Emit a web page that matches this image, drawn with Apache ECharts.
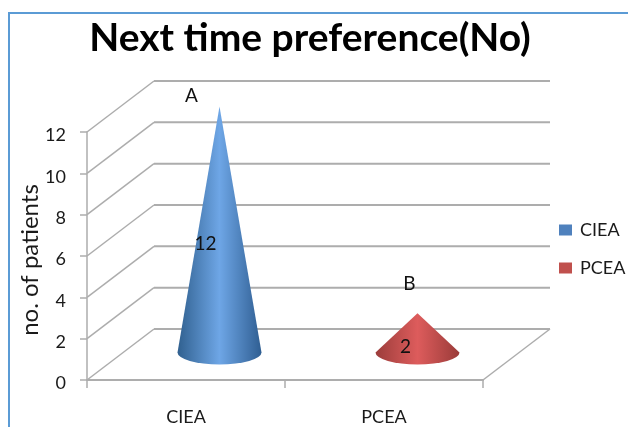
<!DOCTYPE html>
<html>
<head>
<meta charset="utf-8">
<style>html,body{margin:0;padding:0;background:#fff}#chart{width:628px;height:427px}</style>
<script src="https://cdn.jsdelivr.net/npm/echarts@6/dist/echarts.min.js"></script>
</head>
<body>
<div id="chart"></div>
<script>
const categories = ['CIEA', 'PCEA'];
const cieaValues = [[0, 12]];
const pceaValues = [[1, 2]];
const cornerNotes = ['A', 'B'];
const valueTicks = [0, 2, 4, 6, 8, 10, 12];

// Depth of the pseudo-3D box, in pixels
const DEPTH_X = 67, DEPTH_Y = 51;
const FONT = 'Lato, "Open Sans", sans-serif';
const GRID_COLOR = '#adadad';

function renderWalls(params, api) {
  const v = api.value(0);
  const halfBand = api.size([1, 0])[0] / 2;
  const first = api.coord([0, v]);
  const last = api.coord([categories.length - 1, v]);
  const front = [first[0] - halfBand, first[1]];
  const end = [last[0] + halfBand, last[1]];
  const back = [front[0] + DEPTH_X, front[1] - DEPTH_Y];
  const backEnd = [end[0] + DEPTH_X, end[1] - DEPTH_Y];
  const thin = { stroke: GRID_COLOR, lineWidth: 1.5, fill: null };
  const thick = { stroke: GRID_COLOR, lineWidth: 2, fill: null };
  const children = [
    { type: 'line', shape: { x1: front[0], y1: front[1], x2: back[0], y2: back[1] }, style: thin },
    { type: 'line', shape: { x1: back[0], y1: back[1], x2: backEnd[0], y2: backEnd[1] }, style: thick }
  ];
  if (v === 0) {
    children.push(
      { type: 'line', shape: { x1: end[0], y1: end[1], x2: backEnd[0], y2: backEnd[1] }, style: thin }
    );
  }
  return { type: 'group', children };
}

function coneRenderer(stops, rx, ry, labelDx, labelDy, noteDx, noteDy) {
  return function (params, api) {
    const cat = api.value(0), val = api.value(1);
    const foot = api.coord([cat, 0]);
    const top = api.coord([cat, val]);
    const cx = foot[0] + DEPTH_X / 2, cy = foot[1] - DEPTH_Y / 2;
    const tipY = top[1] - DEPTH_Y / 2;
    const path = 'M' + cx + ' ' + tipY +
      'L' + (cx + rx) + ' ' + (cy - 2) +
      'A' + rx + ' ' + ry + ' 0 0 1 ' + (cx - rx) + ' ' + (cy - 2) + 'Z';
    const text = (str, x, y) => ({
      type: 'text',
      style: { text: str, x, y, fill: '#111', font: '19px ' + FONT, align: 'center', verticalAlign: 'middle' }
    });
    return {
      type: 'group',
      children: [
        {
          type: 'path',
          shape: { pathData: path },
          style: {
            fill: { type: 'linear', x: 0, y: 0, x2: 1, y2: 0, colorStops: stops }
          }
        },
        text(String(val), cx + labelDx, (tipY + cy) / 2 + labelDy),
        text(cornerNotes[cat], cx + noteDx, tipY + noteDy)
      ]
    };
  };
}

const blueStops = [
  { offset: 0, color: '#30608f' },
  { offset: 0.5, color: '#6ea6e6' },
  { offset: 1, color: '#2f5e92' }
];
const redStops = [
  { offset: 0, color: '#9c3d3b' },
  { offset: 0.5, color: '#dd5c5c' },
  { offset: 1, color: '#9a3b39' }
];

const chart = echarts.init(document.getElementById('chart'), null, { renderer: 'canvas' });
chart.setOption({
  animation: false,
  backgroundColor: '#fff',
  title: {
    text: 'Next time preference(No)',
    left: 305, top: 14, textAlign: 'center',
    textStyle: { fontFamily: FONT, fontSize: 39, fontWeight: 'bold', color: '#000' }
  },
  legend: {
    data: categories,
    orient: 'vertical',
    left: 554, top: 216,
    itemWidth: 13, itemHeight: 11, itemGap: 20,
    icon: 'rect',
    textStyle: { fontFamily: FONT, fontSize: 18, color: '#1a1a1a', padding: [2, 0, 0, 3] }
  },
  grid: { left: 87, top: 132, width: 396, height: 248 },
  xAxis: {
    type: 'category',
    data: categories,
    boundaryGap: true,
    axisLine: { lineStyle: { color: GRID_COLOR, width: 2 } },
    axisTick: { show: true, length: 8, alignWithLabel: false, lineStyle: { color: GRID_COLOR, width: 1.5 } },
    axisLabel: { margin: 28, fontFamily: FONT, fontSize: 18, color: '#1a1a1a' }
  },
  yAxis: {
    type: 'value',
    min: 0, max: 12, interval: 2,
    name: 'no. of patients',
    nameLocation: 'middle',
    nameGap: 45,
    nameMoveOverlap: false,
    nameTextStyle: { fontFamily: FONT, fontSize: 24, color: '#1a1a1a', padding: [0, 0, 0, -8] },
    axisLine: { show: true, lineStyle: { color: GRID_COLOR, width: 1.5 } },
    axisTick: { show: true, length: 7, lineStyle: { color: GRID_COLOR, width: 1.5 } },
    axisLabel: { margin: 21, fontFamily: FONT, fontSize: 18, color: '#1a1a1a', verticalAlign: 'top', lineHeight: 7 },
    splitLine: { show: false }
  },
  graphic: [
    // Blue frame running along the top and left of the figure
    { type: 'polyline', silent: true, shape: { points: [[9, 430], [9, 13], [630, 13]] }, style: { stroke: '#5b9bd5', lineWidth: 2, fill: null } }
  ],
  series: [
    {
      type: 'custom', name: 'walls', silent: true, z: 1, clip: false,
      data: valueTicks.map(v => [v]),
      encode: { x: -1, y: 0 },
      renderItem: renderWalls
    },
    {
      type: 'custom', name: 'CIEA', z: 3, clip: false,
      itemStyle: { color: '#4f81bd' },
      data: cieaValues,
      encode: { x: 0, y: 1 },
      renderItem: coneRenderer(blueStops, 42, 12, -14, 13, -28, -11)
    },
    {
      type: 'custom', name: 'PCEA', z: 3, clip: false,
      itemStyle: { color: '#c0504d' },
      data: pceaValues,
      encode: { x: 0, y: 1 },
      renderItem: coneRenderer(redStops, 42, 12, -12, 13, -8, -29)
    }
  ]
});
</script>
</body>
</html>
